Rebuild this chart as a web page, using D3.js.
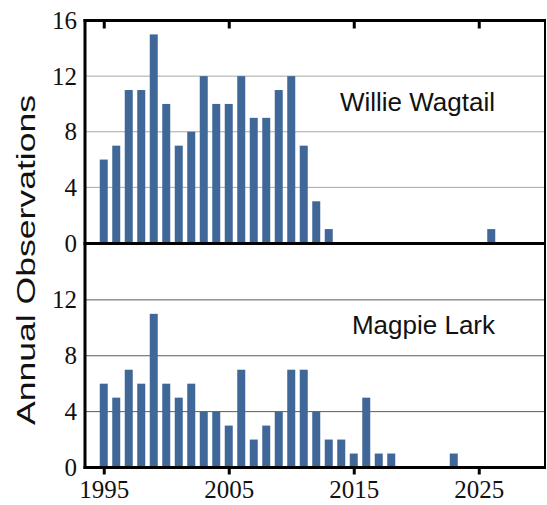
<!DOCTYPE html>
<html>
<head>
<meta charset="utf-8">
<script src="https://cdn.jsdelivr.net/npm/d3@7"></script>
<style>
  body { margin: 0; background: #fff; }
  svg { display: block; }
</style>
</head>
<body>
<div id="chart"></div>
<script>
// Data
const wagtailYears  = [1995, 1996, 1997, 1998, 1999, 2000, 2001, 2002, 2003, 2004, 2005, 2006, 2007, 2008, 2009, 2010, 2011, 2012, 2013, 2026];
const wagtailCounts = [6, 7, 11, 11, 15, 10, 7, 8, 12, 10, 10, 12, 9, 9, 11, 12, 7, 3, 1, 1];

const larkYears  = [1995, 1996, 1997, 1998, 1999, 2000, 2001, 2002, 2003, 2004, 2005, 2006, 2007, 2008, 2009, 2010, 2011, 2012, 2013, 2014, 2015, 2016, 2017, 2018, 2023];
const larkCounts = [6, 5, 7, 6, 11, 6, 5, 6, 4, 4, 3, 7, 2, 3, 4, 7, 7, 4, 2, 2, 1, 5, 1, 1, 1];

const xTicks = [1995, 2005, 2015, 2025];
const topYTicks = [0, 4, 8, 12, 16];
const bottomYTicks = [0, 4, 8, 12];
const gridValues = [4, 8, 12];

const width = 547, height = 505;
const left = 85, right = 545;
const barColor = "#3f6898";
const serifStyle = "font-family:'Liberation Serif',serif;font-size:25px";
const sansStyle = "font-family:'Liberation Sans',Arial,sans-serif;font-size:26px";

const svg = d3.select("#chart")
  .append("svg")
  .attr("width", width)
  .attr("height", height);

const x = d3.scaleLinear()
  .domain([1993.5, 2030.3])
  .range([left, right]);
const barW = (x(1996) - x(1995)) * 0.64;

const panels = [
  { name: "Willie Wagtail", years: wagtailYears, counts: wagtailCounts,
    y: d3.scaleLinear().domain([0, 16]).range([243, 20.5]),
    ticks: topYTicks, grid: "#a8a8a8", labelY: 111 },
  { name: "Magpie Lark", years: larkYears, counts: larkCounts,
    y: d3.scaleLinear().domain([0, 16]).range([467.5, 244]),
    ticks: bottomYTicks, grid: "#5a5a5a", labelY: 334 }
];

panels.forEach(p => {
  const g = svg.append("g");

  // gridlines
  g.selectAll("line.grid")
    .data(gridValues)
    .enter()
    .append("line")
    .attr("class", "grid")
    .attr("x1", left)
    .attr("x2", right)
    .attr("y1", d => p.y(d))
    .attr("y2", d => p.y(d))
    .attr("stroke", p.grid)
    .attr("stroke-width", 1);

  // bars
  const rows = p.years.map((yr, i) => ({ year: yr, count: p.counts[i] }));
  g.selectAll("rect")
    .data(rows)
    .enter()
    .append("rect")
    .attr("x", d => x(d.year) - barW / 2)
    .attr("width", barW)
    .attr("y", d => p.y(d.count))
    .attr("height", d => p.y(0) - p.y(d.count))
    .attr("fill", barColor);

  // y axis labels
  const yAxis = d3.axisLeft(p.y)
    .tickValues(p.ticks)
    .tickSize(0)
    .tickPadding(8)
    .tickFormat(d3.format("d"));
  g.append("g")
    .attr("transform", `translate(${left},0)`)
    .call(yAxis)
    .call(a => a.select(".domain").remove())
    .call(a => a.selectAll("text")
      .attr("style", serifStyle)
      .attr("fill", "#111"));

  // panel label
  g.append("text")
    .attr("x", 495)
    .attr("y", p.labelY)
    .attr("text-anchor", "end")
    .attr("style", sansStyle)
    .attr("fill", "#111")
    .text(p.name);
});

// bottom x axis
const xAxis = d3.axisBottom(x)
  .tickValues(xTicks)
  .tickSize(7)
  .tickPadding(6)
  .tickFormat(d3.format("d"));
svg.append("g")
  .attr("transform", "translate(0,467.5)")
  .call(xAxis)
  .call(a => a.select(".domain").remove())
  .call(a => a.selectAll("line").attr("stroke", "#000").attr("stroke-width", 3))
  .call(a => a.selectAll("text")
    .attr("style", serifStyle)
    .attr("fill", "#111"));

// top inward ticks
svg.append("g")
  .attr("transform", "translate(0,20.5)")
  .call(d3.axisBottom(x).tickValues(xTicks).tickSize(8).tickFormat(""))
  .call(a => a.select(".domain").remove())
  .call(a => a.selectAll("line").attr("stroke", "#000").attr("stroke-width", 3));

// frame lines
const frame = svg.append("g").attr("stroke", "#000");
frame.append("line").attr("x1", left - 1.5).attr("x2", right + 1).attr("y1", 20.5).attr("y2", 20.5).attr("stroke-width", 3);
frame.append("line").attr("x1", left - 1.5).attr("x2", right + 1).attr("y1", 243.5).attr("y2", 243.5).attr("stroke-width", 3);
frame.append("line").attr("x1", left - 1.5).attr("x2", right + 1).attr("y1", 467.5).attr("y2", 467.5).attr("stroke-width", 3);
frame.append("line").attr("x1", left).attr("x2", left).attr("y1", 19).attr("y2", 469).attr("stroke-width", 3);
frame.append("line").attr("x1", right).attr("x2", right).attr("y1", 19).attr("y2", 469).attr("stroke-width", 2);

// y axis title
svg.append("text")
  .attr("transform", "translate(35,260) rotate(-90)")
  .attr("text-anchor", "middle")
  .attr("style", sansStyle)
  .attr("fill", "#111")
  .attr("textLength", 330)
  .attr("lengthAdjust", "spacingAndGlyphs")
  .text("Annual Observations");
</script>
</body>
</html>
